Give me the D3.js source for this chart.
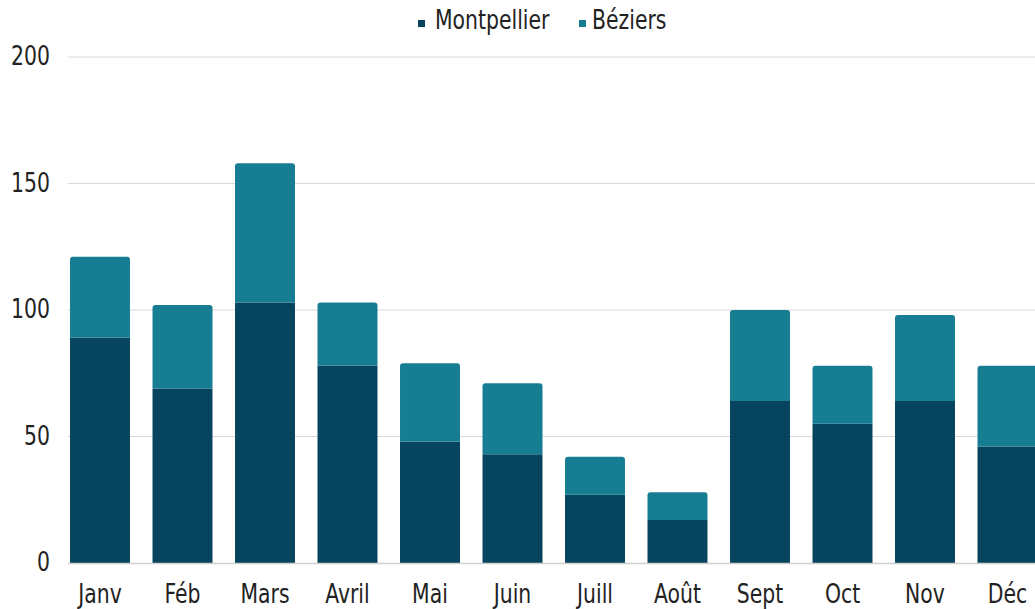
<!DOCTYPE html>
<html>
<head>
<meta charset="utf-8">
<script src="https://cdn.jsdelivr.net/npm/d3@7"></script>
<style>
  html, body { margin: 0; padding: 0; background: #fff; }
  svg { display: block; }
  text { font-family: "DejaVu Sans Condensed", "Liberation Sans Narrow", sans-serif; fill: #222; }
</style>
</head>
<body>
<svg id="chart" width="1035" height="609"></svg>
<script>
const months = ["Janv", "Féb", "Mars", "Avril", "Mai", "Juin", "Juill", "Août", "Sept", "Oct", "Nov", "Déc"];
const montpellier = [89, 69, 103, 78, 48, 43, 27, 17, 64, 55, 64, 46];
const beziers     = [32, 33, 55, 25, 31, 28, 15, 11, 36, 23, 34, 32];
const seriesNames = ["Montpellier", "Béziers"];
const seriesColors = ["#07445e", "#177d92"];
const yTicks = [0, 50, 100, 150, 200];

const W = 1035, H = 609;
const FS = "27px", SX = 0.84;
const svg = d3.select("#chart");

const x = d3.scaleBand()
  .domain(months)
  .range([58.75, 58.75 + 12 * 82.5])
  .paddingInner(0.273)
  .paddingOuter(0.1365);

const y = d3.scaleLinear().domain([0, 200]).range([563, 57]);

const rows = months.map((m, i) => ({ month: m, Montpellier: montpellier[i], "Béziers": beziers[i] }));
const stacked = d3.stack().keys(seriesNames)(rows);

// gridlines
const grid = svg.append("g");
grid.selectAll("line").data(yTicks.filter(d => d > 0)).join("line")
  .attr("x1", 68).attr("x2", W)
  .attr("y1", d => y(d)).attr("y2", d => y(d))
  .attr("stroke", "#d9d9d9").attr("stroke-width", 1.2);

// y axis
const yAxis = svg.append("g")
  .attr("transform", "translate(50,0)")
  .call(d3.axisLeft(y).tickValues(yTicks).tickSize(0).tickPadding(0));
yAxis.select(".domain").remove();
yAxis.selectAll("text").style("font-size", FS).attr("fill", "#222")
  .attr("x", 0).attr("dy", null).attr("y", 7.5)
  .attr("transform", `scale(${SX},1)`);

// bars
const r = 3;
function roundTopPath(x0, y0, w, h, rad) {
  rad = Math.min(rad, h, w / 2);
  return `M${x0},${y0 + h}V${y0 + rad}Q${x0},${y0} ${x0 + rad},${y0}H${x0 + w - rad}Q${x0 + w},${y0} ${x0 + w},${y0 + rad}V${y0 + h}Z`;
}
stacked.forEach((layer, li) => {
  const g = svg.append("g").attr("fill", seriesColors[li]);
  g.selectAll("path").data(layer).join("path")
    .attr("d", d => {
      const x0 = x(d.data.month), w = x.bandwidth();
      const yt = y(d[1]), yb = y(d[0]);
      if (li === stacked.length - 1) return roundTopPath(x0, yt, w, yb - yt, r);
      return `M${x0},${yb}V${yt}H${x0 + w}V${yb}Z`;
    });
});

// x axis
const xAxis = svg.append("g")
  .attr("transform", "translate(0,563)")
  .call(d3.axisBottom(x).tickSize(0).tickPadding(12));
xAxis.select(".domain").attr("stroke", "#d0d0d0").attr("stroke-width", 1.5)
  .attr("d", `M68,0.5H${W}`);
xAxis.selectAll("text").style("font-size", FS).attr("fill", "#222")
  .attr("y", 40).attr("dy", null)
  .attr("transform", `scale(${SX},1)`)
  .attr("x", function() { return 0; });

// legend
const legendSq = [418, 579];
const legendTx = [435, 592];
const legend = svg.append("g");
seriesNames.forEach((name, i) => {
  legend.append("rect").attr("x", legendSq[i]).attr("y", 20).attr("width", 7).attr("height", 7).attr("fill", seriesColors[i]);
  legend.append("text")
    .attr("transform", `translate(${legendTx[i]},29) scale(${SX},1)`)
    .style("font-size", FS).attr("fill", "#222").text(name);
});
</script>
</body>
</html>
